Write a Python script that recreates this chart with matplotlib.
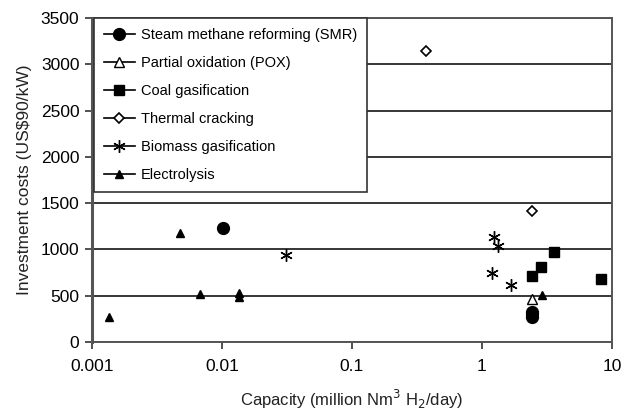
import matplotlib.pyplot as plt
from matplotlib.lines import Line2D

plt.rcParams['font.family'] = ['Liberation Sans', 'DejaVu Sans']

# capacity in million Nm3 H2/day, costs in US$90/kW
smr_x = [0.0102, 2.45, 2.45, 2.45]
smr_y = [1230, 270, 300, 320]
pox_x = [2.45]
pox_y = [465]
coal_x = [2.45, 2.85, 3.58, 8.2]
coal_y = [713, 810, 975, 680]
thermal_x = [0.37, 2.45]
thermal_y = [3140, 1420]
biomass_x = [0.031, 1.24, 1.33, 1.19, 1.67]
biomass_y = [940, 1134, 1037, 745, 616]
elec_x = [0.00135, 0.00475, 0.0068, 0.0135, 0.0135, 2.9]
elec_y = [265, 1175, 520, 530, 490, 510]

labels = ["Steam methane reforming (SMR)", "Partial oxidation (POX)",
          "Coal gasification", "Thermal cracking",
          "Biomass gasification", "Electrolysis"]
yticks = [0, 500, 1000, 1500, 2000, 2500, 3000, 3500]
xticks = [0.001, 0.01, 0.1, 1, 10]
xticklabels = ["0.001", "0.01", "0.1", "1", "10"]

fig = plt.figure(figsize=(6.25, 4.12), dpi=100)
ax = fig.add_axes([0.147, 0.170, 0.832, 0.786])

styles = [
    dict(marker='o', ms=8.5, mfc='black', mec='black'),
    dict(marker='^', ms=7, mfc='white', mec='black', mew=1),
    dict(marker='s', ms=7.5, mfc='black', mec='black'),
    dict(marker='D', ms=5.5, mfc='white', mec='black', mew=1.2),
    dict(marker=(6, 2, 0), ms=9, mfc='black', mec='black', mew=1),
    dict(marker='^', ms=5.5, mfc='black', mec='black'),
]
series = [(smr_x, smr_y), (pox_x, pox_y), (coal_x, coal_y),
          (thermal_x, thermal_y), (biomass_x, biomass_y), (elec_x, elec_y)]

for (xs, ys), st in zip(series, styles):
    ax.plot(xs, ys, linestyle='none', zorder=5, **st)

ax.set_xscale('log')
ax.set_xlim(0.001, 10)
ax.set_ylim(0, 3500)
ax.set_xticks(xticks)
ax.set_xticklabels(xticklabels)
ax.minorticks_off()
ax.set_yticks(yticks)
ax.yaxis.grid(True, color='black', linewidth=1.1)
ax.set_axisbelow(True)

for sp in ax.spines.values():
    sp.set_color('#555555')
    sp.set_linewidth(1.4)
ax.spines['left'].set_linewidth(2.2)

ax.tick_params(direction='out', length=5, width=1.2, color='#333333',
               labelsize=12.5, pad=4)
ax.tick_params(axis='x', pad=7)

ax.set_ylabel("Investment costs (US$90/kW)", fontsize=12.5, color='#222222', labelpad=6)
ax.set_xlabel("Capacity (million Nm$^3$ H$_2$/day)", fontsize=12, color='#222222', labelpad=10)

handles = [Line2D([0], [0], color='black', linewidth=1.2, **st) for st in styles]
leg = ax.legend(handles, labels, loc='upper left', bbox_to_anchor=(0.004, 1.0),
                fontsize=10.5, frameon=True, fancybox=False, edgecolor='#333333',
                framealpha=1, handlelength=2.1, handletextpad=0.4,
                labelspacing=0.95, borderpad=0.7, borderaxespad=0)
leg.get_frame().set_linewidth(1.2)
leg.set_zorder(10)

fig.savefig('out.png', dpi=100)
